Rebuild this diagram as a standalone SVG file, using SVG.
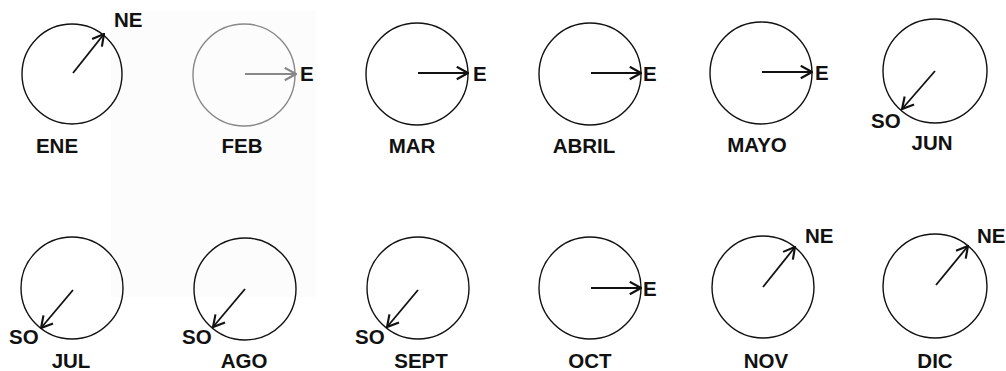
<svg xmlns="http://www.w3.org/2000/svg" width="1006" height="371" viewBox="0 0 1006 371">
<style>
.c{fill:none;stroke:#111;stroke-width:1.4}
.a{fill:none;stroke:#111;stroke-width:1.8;marker-end:url(#ah)}
.g{stroke:#888}
.t{font-family:"Liberation Sans",Arial,sans-serif;font-weight:bold;font-size:20.5px;fill:#111}
.m{text-anchor:middle}
</style>
<defs>
<marker id="ah" markerUnits="userSpaceOnUse" markerWidth="15" markerHeight="15" viewBox="0 0 12 12" refX="11" refY="6" orient="auto">
<path d="M2,1 L11,6 L2,11" fill="none" stroke="#111" stroke-width="1.7"/>
</marker>
<marker id="ahg" markerUnits="userSpaceOnUse" markerWidth="15" markerHeight="15" viewBox="0 0 12 12" refX="11" refY="6" orient="auto">
<path d="M2,1 L11,6 L2,11" fill="none" stroke="#888" stroke-width="1.7"/>
</marker>
</defs>
<rect x="111" y="10" width="205" height="287" fill="#fcfcfc"/>
<g id="ene"><circle class="c" cx="72" cy="74" r="50"/><text class="t" x="114" y="27">NE</text><text class="t m" x="57" y="153">ENE</text></g>
<g id="feb"><circle class="c g" cx="244" cy="75" r="51"/><text class="t" x="300" y="81" fill="#333">E</text><text class="t m" x="242" y="153" fill="#333">FEB</text></g>
<g id="mar"><circle class="c" cx="417" cy="74" r="51"/><text class="t" x="473" y="81">E</text><text class="t m" x="412" y="153">MAR</text></g>
<g id="abril"><circle class="c" cx="590" cy="74" r="51"/><text class="t" x="643" y="81">E</text><text class="t m" x="584" y="153">ABRIL</text></g>
<g id="mayo"><circle class="c" cx="761" cy="73" r="51"/><text class="t" x="815" y="80">E</text><text class="t m" x="757" y="152">MAYO</text></g>
<g id="jun"><circle class="c" cx="935" cy="71" r="52"/><text class="t" x="871" y="128">SO</text><text class="t m" x="932" y="150">JUN</text></g>
<g id="jul"><circle class="c" cx="72" cy="288" r="51"/><text class="t" x="9" y="344">SO</text><text class="t m" x="71" y="368">JUL</text></g>
<g id="ago"><circle class="c" cx="245" cy="289" r="51"/><text class="t" x="182" y="344">SO</text><text class="t m" x="244" y="368">AGO</text></g>
<g id="sept"><circle class="c" cx="418" cy="288" r="51"/><text class="t" x="355" y="344">SO</text><text class="t m" x="421" y="368">SEPT</text></g>
<g id="oct"><circle class="c" cx="590" cy="288" r="51"/><text class="t" x="643" y="296">E</text><text class="t m" x="590" y="368">OCT</text></g>
<g id="nov"><circle class="c" cx="763" cy="287" r="51"/><text class="t" x="805" y="243">NE</text><text class="t m" x="766" y="368">NOV</text></g>
<g id="dic"><circle class="c" cx="935" cy="286" r="52"/><text class="t" x="977" y="243">NE</text><text class="t m" x="935" y="368">DIC</text></g>
<g id="connectors">
<line class="a" x1="73" y1="73" x2="104" y2="34"/>
<line class="a" x1="245" y1="74" x2="296" y2="74" style="stroke:#888;marker-end:url(#ahg)"/>
<line class="a" x1="418" y1="73" x2="468" y2="73"/>
<line class="a" x1="591" y1="73" x2="641" y2="73"/>
<line class="a" x1="762" y1="72" x2="812" y2="72"/>
<line class="a" x1="935" y1="71" x2="902" y2="109"/>
<line class="a" x1="73" y1="290" x2="41" y2="328"/>
<line class="a" x1="245" y1="289" x2="213" y2="327"/>
<line class="a" x1="418" y1="290" x2="387" y2="327"/>
<line class="a" x1="591" y1="288" x2="641" y2="288"/>
<line class="a" x1="763" y1="287" x2="795" y2="247"/>
<line class="a" x1="936" y1="285" x2="968" y2="246"/>
</g>
</svg>
